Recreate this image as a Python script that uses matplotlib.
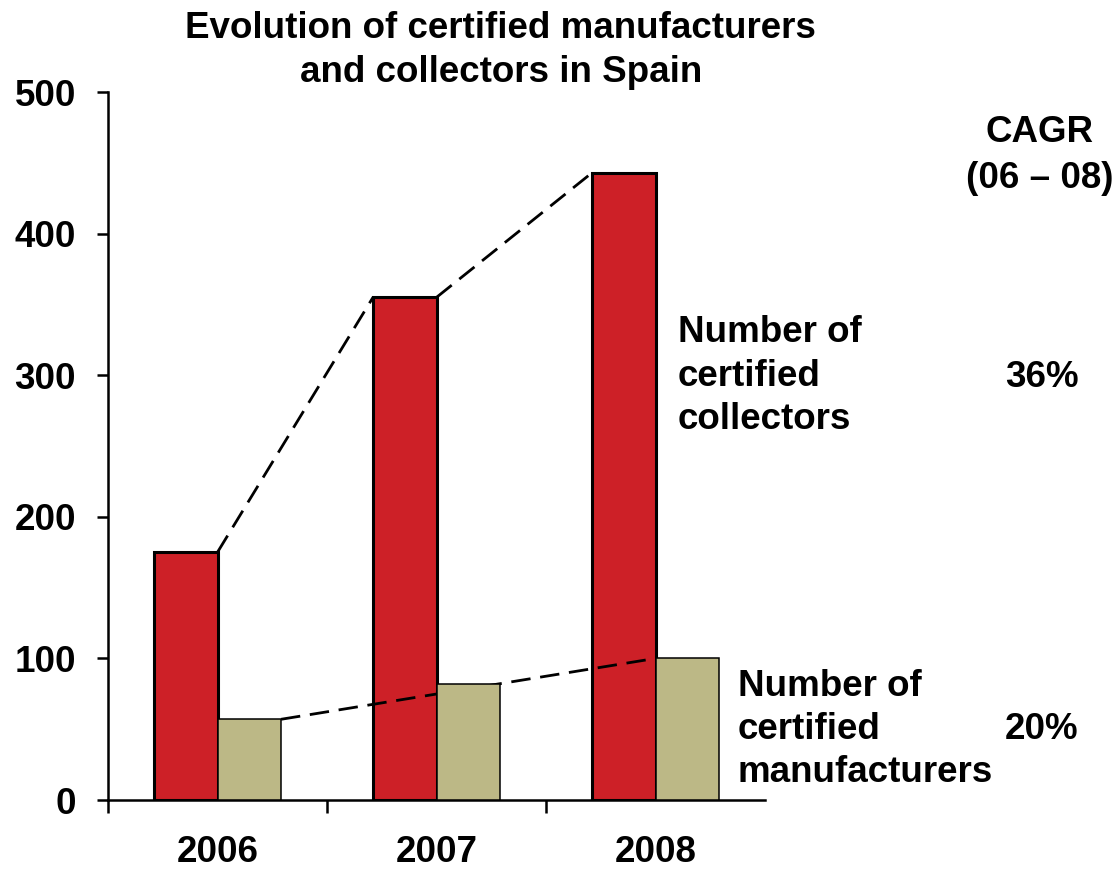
import numpy as np
import matplotlib.pyplot as plt

plt.rcParams['font.family'] = ['Liberation Sans', 'DejaVu Sans']
plt.rcParams['font.weight'] = 'bold'
plt.rcParams['lines.scale_dashes'] = False

years = ['2006', '2007', '2008']
collectors = [175, 355, 443]
manufacturers = [57, 82, 100]
cagr_collectors = '36%'
cagr_manufacturers = '20%'

red = '#CD2027'
tan = '#BCB886'
w = 0.29
fs = 26.5

fig = plt.figure(figsize=(11.18, 8.69), dpi=100)
ax = fig.add_axes([0.0966, 0.0794, 0.5877, 0.8147])

x = np.arange(len(years))
ax.bar(x - w, collectors, width=w, align='edge', color=red,
       edgecolor='black', linewidth=2.2, zorder=2)
ax.bar(x, manufacturers, width=w, align='edge', color=tan,
       edgecolor='black', linewidth=1.1, zorder=4)

# dashed trend lines joining bar tops
for i in range(len(years) - 1):
    ax.plot([x[i], x[i + 1] - w], [collectors[i], collectors[i + 1]],
            color='black', lw=2.0, dashes=(14, 7), zorder=3)
ax.plot([x[0] + w, x[-1]], [manufacturers[0], manufacturers[-1]],
        color='black', lw=2.0, dashes=(14, 7), zorder=3)

ax.set_xlim(-0.5, 2.5)
ax.set_ylim(0, 500)
ax.set_yticks([0, 100, 200, 300, 400, 500])
ax.set_xticks(x)
ax.set_xticklabels(years)
ax.set_xticks([-0.5, 0.5, 1.5], minor=True)

for s in ['top', 'right']:
    ax.spines[s].set_visible(False)
for s in ['left', 'bottom']:
    ax.spines[s].set_linewidth(1.8)

ax.tick_params(axis='y', direction='out', length=8, width=1.8, pad=15,
               labelsize=26.5)
ax.tick_params(axis='x', which='major', length=0, pad=25, labelsize=26.5)
ax.tick_params(axis='x', which='minor', direction='out', length=9, width=1.8)

fig.text(0.448, 0.987, 'Evolution of certified manufacturers\nand collectors in Spain',
         ha='center', va='top', fontsize=fs, linespacing=1.33)

fig.text(0.6065, 0.637, 'Number of\ncertified\ncollectors', ha='left', va='top',
         fontsize=fs, linespacing=1.3)
fig.text(0.660, 0.230, 'Number of\ncertified\nmanufacturers', ha='left', va='top',
         fontsize=fs, linespacing=1.3)

fig.text(0.930, 0.821, 'CAGR\n(06 – 08)', ha='center', va='center',
         fontsize=fs, linespacing=1.43)
fig.text(0.9316, 0.566, cagr_collectors, ha='center', va='center', fontsize=fs)
fig.text(0.9316, 0.161, cagr_manufacturers, ha='center', va='center', fontsize=fs)

fig.savefig('out.png', dpi=100)
